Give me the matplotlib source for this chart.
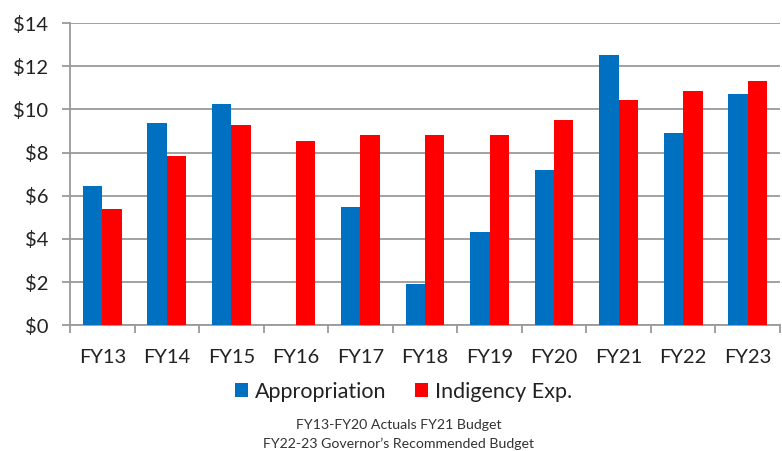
import numpy as np
import matplotlib
matplotlib.use('Agg')
import matplotlib.pyplot as plt
from matplotlib.ticker import FixedLocator

plt.rcParams['font.family'] = ['Lato', 'DejaVu Sans']

# data (millions)
years = ['FY13', 'FY14', 'FY15', 'FY16', 'FY17', 'FY18', 'FY19', 'FY20', 'FY21', 'FY22', 'FY23']
appropriation = [6.46, 9.35, 10.23, 0, 5.46, 1.9, 4.33, 7.19, 12.52, 8.9, 10.71]
indigency = [5.38, 7.85, 9.26, 8.53, 8.82, 8.81, 8.79, 9.5, 10.44, 10.85, 11.3]
y_ticks = [0, 2, 4, 6, 8, 10, 12, 14]

fig = plt.figure(figsize=(7.82, 4.51), dpi=100)
ax = fig.add_axes([0.0895, 0.279, 0.908, 0.670])

x = np.arange(len(years))
w = 0.3
ax.bar(x - w / 2, appropriation, w, color='#0070C0', label='Appropriation', zorder=3)
ax.bar(x + w / 2, indigency, w, color='#FF0000', label='Indigency Exp.', zorder=3)

ax.set_xlim(-0.5, len(years) - 0.5)
ax.set_ylim(0, 14)
ax.set_yticks(y_ticks)
ax.set_yticklabels(['$' + str(v) for v in y_ticks])
ax.yaxis.grid(True, color='#9a9a9a', linewidth=1.3, zorder=0)

ax.set_xticks(x)
ax.set_xticklabels(years)
ax.xaxis.set_minor_locator(FixedLocator(np.arange(-0.5, len(years), 1)))
ax.tick_params(axis='x', which='major', length=0, pad=17, labelsize=14.5, labelcolor='#222222')
ax.tick_params(axis='x', which='minor', length=6, width=1.3, color='#9a9a9a', direction='out')
ax.tick_params(axis='y', length=6, width=1.3, color='#9a9a9a', labelsize=14.5, labelcolor='#222222', pad=9.5)

for s in ['top', 'right']:
    ax.spines[s].set_visible(False)
for s in ['left', 'bottom']:
    ax.spines[s].set_color('#9a9a9a')
    ax.spines[s].set_linewidth(1.3)

fig.legend(loc='center', bbox_to_anchor=(0.516, 0.131), ncol=2, frameon=False,
           fontsize=15.5, handlelength=0.6, handleheight=0.6, handletextpad=0.35,
           columnspacing=1.3, labelcolor='#222222')

fig.text(0.51, 0.057, 'FY13-FY20 Actuals FY21 Budget', ha='center', va='center',
         fontsize=10.2, color='#333333')
fig.text(0.51, 0.017, 'FY22-23 Governor\u2019s Recommended Budget', ha='center', va='center',
         fontsize=10.2, color='#333333')

fig.savefig('out.png', dpi=100)
